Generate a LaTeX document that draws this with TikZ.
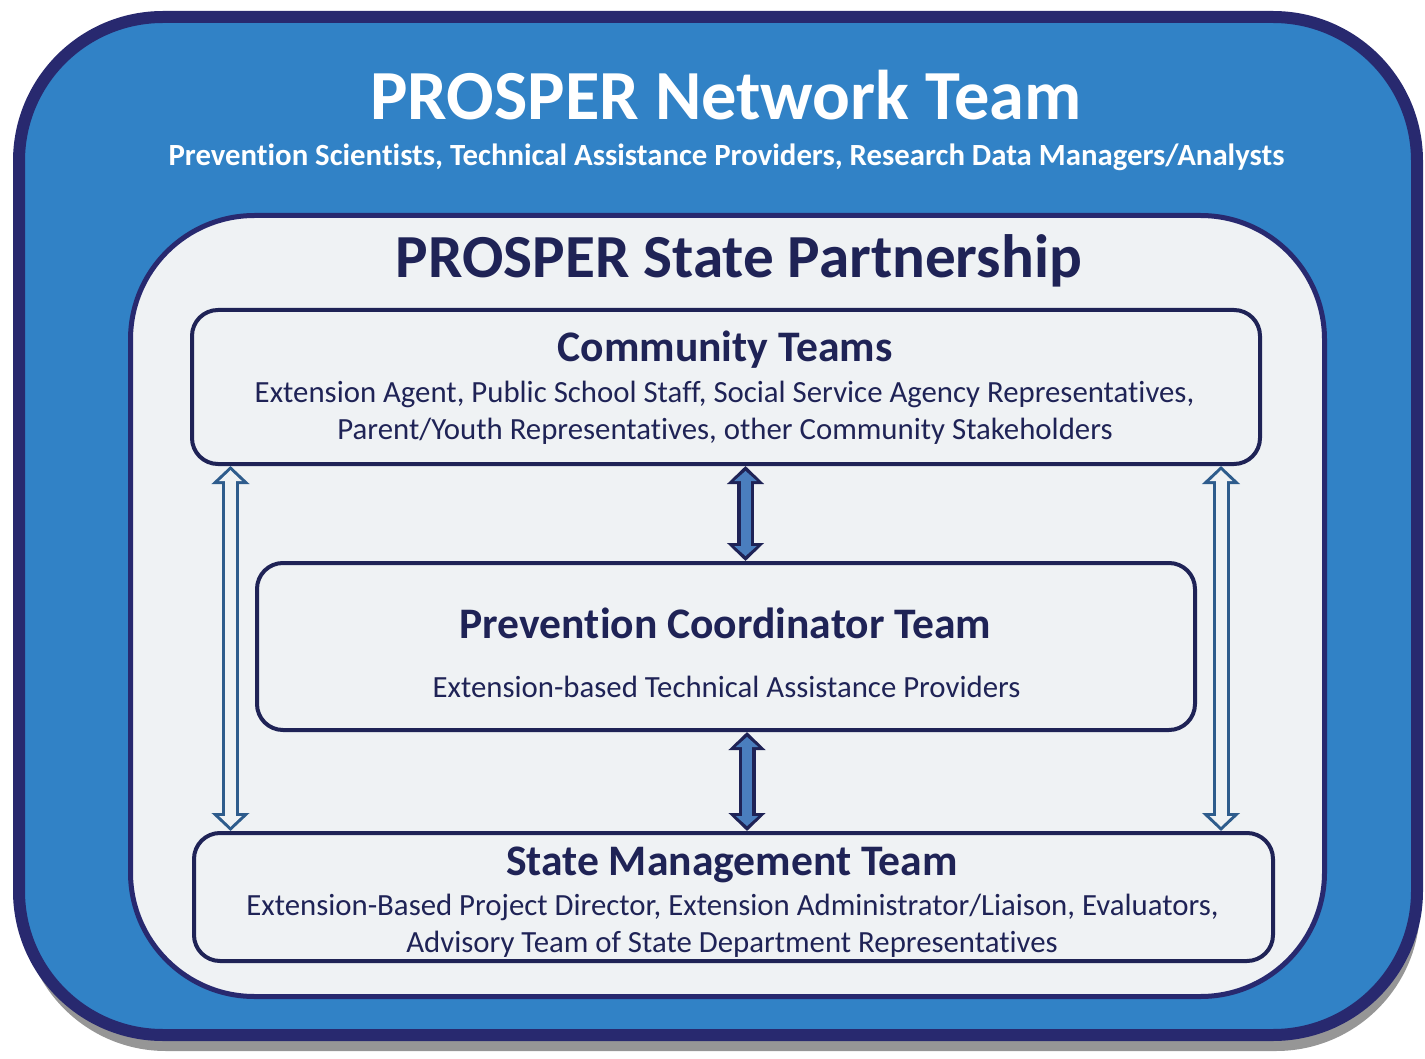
\documentclass[tikz,border=0pt]{standalone}
\usepackage{fontspec}
\setmainfont{Carlito}[Ligatures=NoCommon]
\usetikzlibrary{arrows.meta,positioning,shadows}

\definecolor{netblue}{HTML}{3182C6}
\definecolor{netrim}{HTML}{28296F}
\definecolor{panel}{HTML}{EFF2F4}
\definecolor{ink}{HTML}{1F2356}
\definecolor{steel}{HTML}{2E5C8C}
\definecolor{fatfill}{HTML}{4A7EBE}

\tikzset{
  netbox/.style={rectangle, draw=netrim, fill=netblue, line width=6pt, rounded corners=72pt, inner sep=0pt,
    drop shadow={shadow xshift=1.5pt, shadow yshift=-8pt, fill=black!75, opacity=0.55}},
  partbox/.style={rectangle, draw=netrim, fill=panel, line width=2.5pt, rounded corners=62pt, inner sep=0pt},
  teambox/.style={rectangle, draw=ink, fill=panel, line width=2pt, rounded corners=13pt, inner sep=0pt},
  bigtitle/.style={anchor=base, text=white, font=\bfseries\fontsize{35.2}{40}\selectfont},
  subtitle/.style={anchor=base, text=white, font=\bfseries\fontsize{15.4}{20}\selectfont},
  parttitle/.style={anchor=base, text=ink, font=\bfseries\fontsize{30.6}{36}\selectfont},
  teamtitle/.style={anchor=base, text=ink, font=\bfseries\fontsize{21.8}{24}\selectfont},
  teamtext/.style={anchor=base, text=ink, font=\fontsize{15.4}{18}\selectfont},
  fatout/.style={draw=ink, line width=8.5pt, {Triangle[length=9pt,width=18pt]}-{Triangle[length=9pt,width=18pt]}},
  fatin/.style={draw=fatfill, line width=5pt, shorten <=2.5pt, shorten >=2.5pt,
    {Triangle[length=5pt,width=11pt]}-{Triangle[length=5pt,width=11pt]}},
  sideout/.style={draw=steel, line width=8.5pt, {Triangle[length=9pt,width=18.5pt]}-{Triangle[length=9pt,width=18.5pt]}},
  sidein/.style={draw=panel, line width=5.5pt, shorten <=2.1pt, shorten >=2.1pt,
    {Triangle[length=5.4pt,width=11pt]}-{Triangle[length=5.4pt,width=11pt]}}
}

\begin{document}
\begin{tikzpicture}[x=0.5pt,y=-0.5pt]
    \useasboundingbox (0,0) rectangle (1425,1059);

    \node[netbox, minimum width=699pt, minimum height=509pt] (net) at (718,526) {};
    \node[partbox, minimum width=597pt, minimum height=390.5pt] (part) at (727.5,606) {};
    \node[teambox, minimum width=534pt, minimum height=77pt] (ct) at (726,387) {};
    \node[teambox, minimum width=469pt, minimum height=83.5pt] (pc) at (726,646.5) {};
    \node[teambox, minimum width=539.5pt, minimum height=64pt] (sm) at (733.5,897) {};

    \node[bigtitle] (nettitle) at (726,120) {PROSPER Network Team};
    \node[subtitle] (netsub) at (726.5,166) {Prevention Scientists, Technical Assistance Providers, Research Data Managers/Analysts};
    \node[parttitle] (parttitle) at (739,278) {PROSPER State Partnership};

    \node[teamtitle] (cttitle) at (725,362) {Community Teams};
    \node[teamtext] (cttext1) at (724.5,402) {Extension Agent, Public School Staff, Social Service Agency Representatives,};
    \node[teamtext] (cttext2) at (725,439) {Parent/Youth Representatives, other Community Stakeholders};

    \node[teamtitle] (pctitle) at (725.5,638) {Prevention Coordinator Team};
    \node[teamtext] (pctext) at (726.5,697) {Extension-based Technical Assistance Providers};

    \node[teamtitle] (smtitle) at (732,875) {State Management Team};
    \node[teamtext] (smtext1) at (732.5,915) {Extension-Based Project Director, Extension Administrator/Liaison, Evaluators,};
    \node[teamtext] (smtext2) at (732,952) {Advisory Team of State Department Representatives};

    \coordinate (upx) at (745.5,0);
    \coordinate (lowx) at (747,0);
    \coordinate (leftx) at (230.5,0);
    \coordinate (rightx) at (1221,0);

    \draw[fatout] (ct.south -| upx) -- (pc.north -| upx);
    \draw[fatin] (ct.south -| upx) -- (pc.north -| upx);
    \draw[fatout] (pc.south -| lowx) -- (sm.north -| lowx);
    \draw[fatin] (pc.south -| lowx) -- (sm.north -| lowx);
    \draw[sideout] (ct.south -| leftx) -- (sm.north -| leftx);
    \draw[sidein] (ct.south -| leftx) -- (sm.north -| leftx);
    \draw[sideout] (ct.south -| rightx) -- (sm.north -| rightx);
    \draw[sidein] (ct.south -| rightx) -- (sm.north -| rightx);
\end{tikzpicture}
\end{document}
